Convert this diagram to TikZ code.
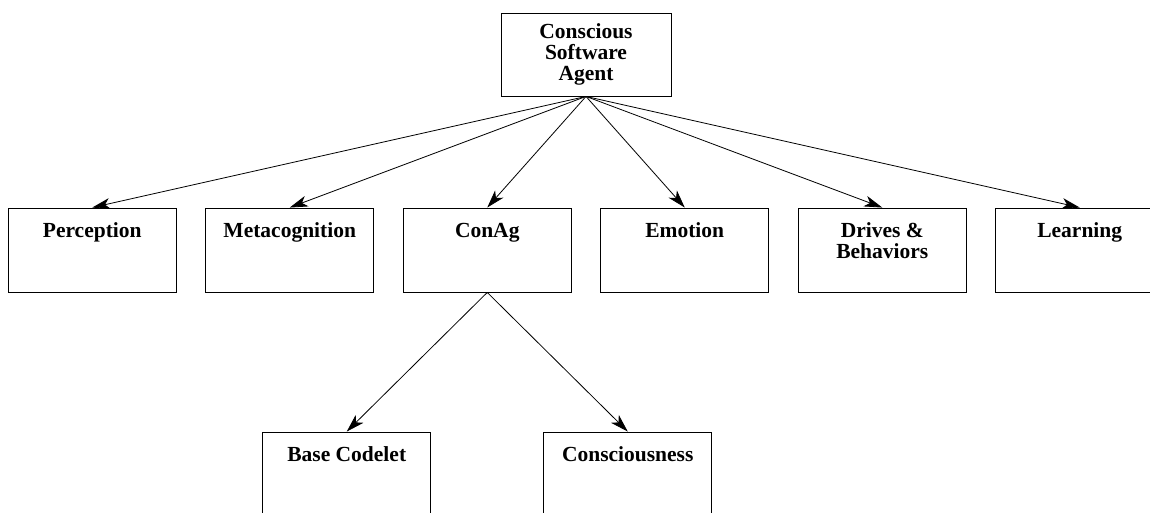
\documentclass[tikz,border=0pt]{standalone}
\usepackage{fontspec}
\setmainfont{Liberation Serif}
\usetikzlibrary{trees, arrows.meta}

\begin{document}
\begin{tikzpicture}[
  x=1pt, y=1pt,
  level distance=195.5pt,
  level 1/.style={sibling distance=197.5pt},
  level 2/.style={sibling distance=281pt, level distance=224pt},
  edge from parent/.style={draw, line width=0.8pt, -{Stealth[length=18pt, width=11pt, inset=5pt]}},
  edge from parent path={(\tikzparentnode.south) -- (\tikzchildnode.north)},
  font=\fontsize{21.5}{21}\selectfont\bfseries,
  part/.style={rectangle, draw, line width=0.9pt, inner sep=0pt, minimum width=168pt,
    text height=29pt, text depth=55pt, align=center},
  part2/.style={part, text height=50pt, text depth=34pt}, % two lines: baseline is the last one
  agent/.style={rectangle, draw, line width=0.9pt, minimum width=170pt, minimum height=83pt,
    align=center}] % boxes reaching past the page edge are cut off as in the original

  \useasboundingbox (0,0) rectangle (1150,-513);

  \node[agent] (csa) at (586,-54.5) {Conscious\\Software\\Agent}
	child {node[part] (perc) {Perception}}
	child {node[part] (meta) {Metacognition}}
	child {node[part] (conag) {ConAg}
		child {node[part] (base) {Base Codelet}}
		child {node[part] (consc) {Consciousness}}
	}
	child {node[part] (emo) {Emotion}}
	child {node[part2] (drives) {Drives \&\\Behaviors}}
	child {node[part] (learn) {Learning}};
\end{tikzpicture}
\end{document}
